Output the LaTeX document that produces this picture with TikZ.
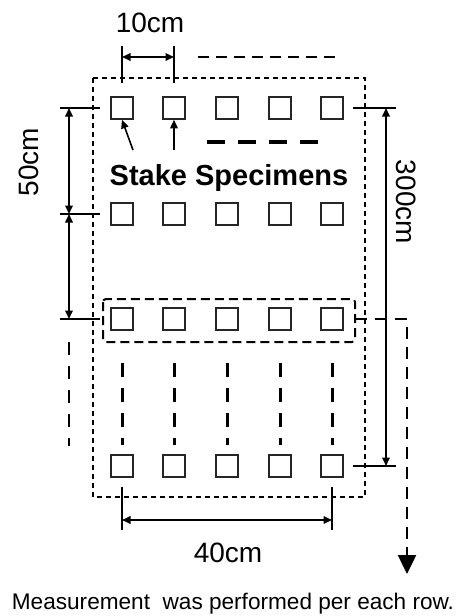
\documentclass[tikz,border=0pt]{standalone}
\usepackage{fontspec}
\setmainfont{Liberation Sans}
\usetikzlibrary{arrows.meta}
\begin{document}
\begin{tikzpicture}[x=1pt,y=-1pt,
  sq/.style={draw=black!85,line width=1.6pt,minimum size=22pt,inner sep=0pt},
  dimtick/.style={line width=1.3pt},
  dimline/.style={line width=1.9pt,{Triangle[length=8.5pt,width=7.5pt]}-{Triangle[length=8.5pt,width=7.5pt]}},
  ptr/.style={line width=1.6pt,-{Triangle[length=8.5pt,width=7.5pt]}},
  thindash/.style={line width=1.2pt,dash pattern=on 5pt off 4pt},
  thickdash/.style={line width=3pt,dash pattern=on 14pt off 11pt},
  lbl/.style={font=\fontsize{28}{30}\selectfont,inner sep=0pt},
]
\useasboundingbox (0,0) rectangle (457,616);
% squares
\foreach \r/\y in {1/108,2/214,3/319,4/466}{
  \foreach \c/\x in {1/122,2/174,3/227,4/280,5/332}{
    \node[sq] (r\r c\c) at (\x,\y) {};
  }
}
% outer field
\draw[thindash] (93,78) rectangle (365,497);
% measured row box
\draw[line width=2pt,dash pattern=on 9pt off 5pt,rounded corners=3pt] (103,299) rectangle (355,342);
% continuation dashes between row 3 and row 4
\foreach \c in {1,...,5}{
  \draw[thickdash] ([yshift=-32pt]r3c\c.south) -- ([yshift=9pt]r4c\c.north);
}
% left continuation
\coordinate (lc1) at (69,342);
\coordinate (lc2) at (69,446);
\draw[line width=2.6pt,dash pattern=on 13pt off 11pt] (lc1) -- (lc2);
% row continuation dashes
\draw[line width=3.5pt,dash pattern=on 18pt off 13pt] (207,142) -- (319,142);
\coordinate (td1) at (198,57);
\coordinate (td2) at (340,57);
\draw[line width=1.8pt,dash pattern=on 11pt off 7pt] (td1) -- (td2);
% 10cm dimension
\coordinate (a1) at (122,46); \coordinate (a2) at (122,83);
\coordinate (b1) at (174,46); \coordinate (b2) at (174,83);
\draw[dimtick] (a1) -- (a2);
\draw[dimtick] (b1) -- (b2);
\coordinate (d10a) at (122,57); \coordinate (d10b) at (174,57);
\draw[dimline] (d10a) -- (d10b);
\node[lbl] (l10) at (150,23) {10cm};
% 50cm dimension (left)
\coordinate (lt1a) at (60,108); \coordinate (lt1b) at (100,108);
\coordinate (lt2a) at (60,214); \coordinate (lt2b) at (100,214);
\coordinate (lt3a) at (60,319); \coordinate (lt3b) at (100,319);
\draw[dimtick] (lt1a) -- (lt1b);
\draw[dimtick] (lt2a) -- (lt2b);
\draw[dimtick] (lt3a) -- (lt3b);
\coordinate (v1) at (69,108); \coordinate (v2) at (69,214); \coordinate (v3) at (69,319);
\draw[dimline] (v1) -- (v2);
\draw[dimline] (v2) -- (v3);
\node[lbl,rotate=90] (l50) at (29,162) {50cm};
% 300cm dimension (right)
\coordinate (rt1a) at (353,108); \coordinate (rt1b) at (396,108);
\coordinate (rt2a) at (353,466); \coordinate (rt2b) at (396,466);
\draw[dimtick] (rt1a) -- (rt1b);
\draw[dimtick] (rt2a) -- (rt2b);
\coordinate (w1) at (386,108); \coordinate (w2) at (386,466);
\draw[dimline] (w1) -- (w2);
\node[lbl,rotate=-90] (l300) at (406,202) {300cm};
% 40cm dimension (bottom)
\coordinate (bt1a) at (122,487); \coordinate (bt1b) at (122,530);
\coordinate (bt2a) at (332,487); \coordinate (bt2b) at (332,530);
\draw[dimtick] (bt1a) -- (bt1b);
\draw[dimtick] (bt2a) -- (bt2b);
\coordinate (h1) at (122,520); \coordinate (h2) at (332,520);
\draw[dimline] (h1) -- (h2);
\node[lbl] (l40) at (228,553) {40cm};
% stake specimens label and pointers
\node[inner sep=0pt,font=\fontsize{29}{31}\selectfont\bfseries] (stake) at (229,178) {Stake Specimens};
\coordinate (p1) at (133,150);
\coordinate (p2) at (174,150);
\draw[ptr] (p1) -- (r1c1.south);
\draw[ptr] (p2) -- (r1c2.south);
% measurement direction
\coordinate (m1) at (407,319);
\coordinate (m2) at (407,574);
\draw[line width=2.5pt,dash pattern=on 12pt off 8pt] (r3c5.east) ++(11pt,0) -- (m1) -- ([yshift=20pt]m2);
\draw[line width=2.5pt,-{Triangle[length=19pt,width=18pt]}] ([yshift=22pt]m2) -- (m2);
\node[inner sep=0pt,font=\fontsize{22.6}{24}\selectfont] (meas) at (233,604) {Measurement\ \ was performed per each row.};
\end{tikzpicture}
\end{document}
